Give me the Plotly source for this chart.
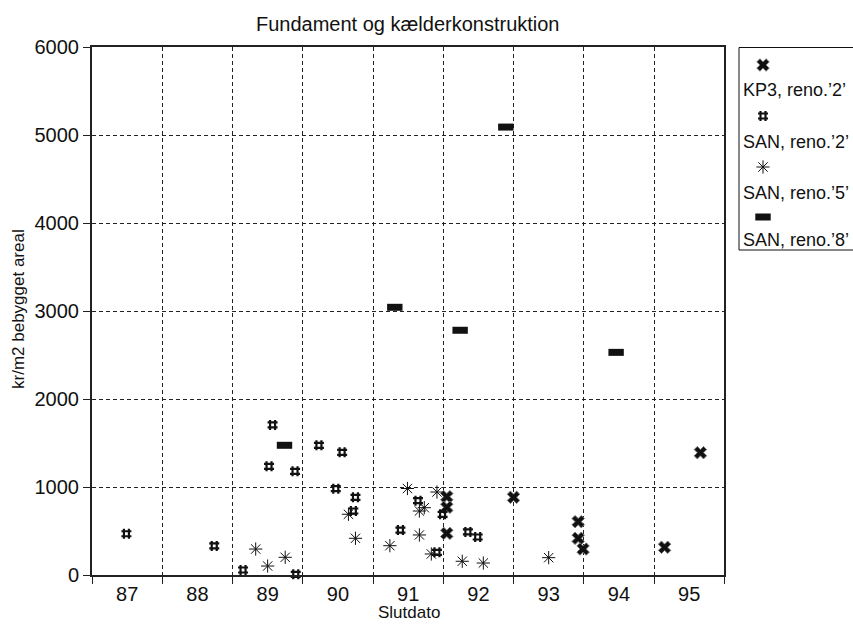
import plotly.graph_objects as go

# Year axis (two-digit years), construction cost per m2
years = ["87", "88", "89", "90", "91", "92", "93", "94", "95"]

kp3_x = [92.05, 92.05, 92.05, 93.00, 93.92, 93.92, 93.99, 95.15, 95.66]
kp3_y = [890, 769, 473, 883, 606, 417, 295, 315, 1390]

san2_x = [87.49, 88.74, 89.15, 89.52, 89.57, 89.89, 89.90, 90.23, 90.47,
          90.56, 90.72, 90.75, 91.39, 91.64, 91.91, 91.99, 92.35, 92.49]
san2_y = [469, 330, 57, 1235, 1705, 1178, 8, 1474, 981,
          1394, 727, 883, 511, 845, 258, 689, 489, 432]

san5_x = [89.33, 89.50, 89.75, 90.65, 90.75, 91.24, 91.49, 91.66, 91.66,
          91.73, 91.83, 91.91, 92.27, 92.57, 93.50]
san5_y = [295, 102, 201, 690, 417, 333, 983, 727, 455,
          765, 239, 943, 156, 136, 197]

san8_x = [89.74, 91.31, 92.24, 92.89, 94.46]
san8_y = [1474, 3042, 2781, 5090, 2530]

series_names = ["KP3, reno.\u20192\u2019", "SAN, reno.\u20192\u2019",
                "SAN, reno.\u20195\u2019", "SAN, reno.\u20198\u2019"]

FONT = "Liberation Sans, Arial, Helvetica, sans-serif"
INK = "#111111"

styles = [
    dict(symbol="x", size=11, color=INK, line=dict(color="#777777", width=1)),
    dict(symbol="hash", size=10, color=INK, line=dict(color=INK, width=2.2)),
    dict(symbol="asterisk", size=11, color=INK, line=dict(color=INK, width=1)),
    dict(symbol="line-ew", size=11, color=INK, line=dict(color=INK, width=7)),
]
data = [(kp3_x, kp3_y), (san2_x, san2_y), (san5_x, san5_y), (san8_x, san8_y)]

fig = go.Figure()
for (xs, ys), st, name in zip(data, styles, series_names):
    fig.add_trace(go.Scatter(x=xs, y=ys, mode="markers", name=name,
                             marker=st, showlegend=False, cliponaxis=False,
                             xaxis="x", yaxis="y"))

# Hand-drawn key to the right of the plot (pixel coordinates on x2/y2)
key_sym_y = [65, 116, 167, 217]
key_txt_y = [90, 142, 193, 240]
for st, sy in zip(styles, key_sym_y):
    fig.add_trace(go.Scatter(x=[763], y=[sy], mode="markers", marker=st,
                             showlegend=False, cliponaxis=False,
                             xaxis="x2", yaxis="y2", hoverinfo="skip"))

annotations = []
for name, ty in zip(series_names, key_txt_y):
    annotations.append(dict(xref="x2", yref="y2", x=741, y=ty, text=name,
                            showarrow=False, xanchor="left", yanchor="middle",
                            font=dict(family=FONT, size=18, color=INK)))

W, H = 853, 625
L, T, B = 92, 47, 50
plot_right = 724.3
paper_w = W - L
paper_h = H - T - B

annotations += [
    dict(xref="paper", yref="paper", x=(408 - L) / paper_w,
         y=(H - B - 24) / paper_h, text="Fundament og kælderkonstruktion",
         showarrow=False, xanchor="center", yanchor="middle",
         font=dict(family=FONT, size=20, color=INK)),
    dict(xref="paper", yref="paper", x=(408.7 - L) / paper_w,
         y=(H - B - 612) / paper_h, text="Slutdato",
         showarrow=False, xanchor="center", yanchor="middle",
         font=dict(family=FONT, size=17, color=INK)),
    dict(xref="paper", yref="paper", x=(18 - L) / paper_w,
         y=(H - B - 309) / paper_h, text="kr/m2 bebygget areal",
         textangle=-90, showarrow=False, xanchor="center", yanchor="middle",
         font=dict(family=FONT, size=17, color=INK)),
]

grid = dict(gridcolor="#222222", gridwidth=1, griddash="4px,3px")

fig.update_layout(
    width=W, height=H,
    margin=dict(l=L, r=0, t=T, b=B, pad=0),
    paper_bgcolor="white", plot_bgcolor="white",
    font=dict(family=FONT, size=20, color=INK),
    xaxis=dict(domain=[0, (plot_right - L) / paper_w], range=[87, 96],
               tickvals=[87.5 + i for i in range(len(years))], ticktext=years,
               ticks="", showgrid=False, zeroline=False,
               showline=True, linecolor="#222222", linewidth=2, mirror=True,
               tickfont=dict(size=20, color=INK),
               minor=dict(tick0=87, dtick=1, ticks="outside", ticklen=7,
                          tickcolor="#222222", tickwidth=1, showgrid=True, **grid),
               anchor="y", fixedrange=True),
    yaxis=dict(domain=[0, 1], range=[0, 6000], dtick=1000,
               ticks="outside", ticklen=7, tickcolor="#222222", tickwidth=1,
               showgrid=True, zeroline=False,
               showline=True, linecolor="#222222", linewidth=2, mirror=True,
               tickfont=dict(size=20, color=INK), anchor="x", fixedrange=True,
               **grid),
    xaxis2=dict(domain=[(plot_right - L) / paper_w, 1], range=[plot_right, W],
                visible=False, anchor="y2", fixedrange=True),
    yaxis2=dict(domain=[0, 1], range=[H - B, T], visible=False,
                anchor="x2", fixedrange=True),
    shapes=[dict(type="rect", xref="x2", yref="y2", x0=739, x1=880,
                 y0=47.5, y1=250, line=dict(color=INK, width=1),
                 fillcolor="rgba(0,0,0,0)")],
    annotations=annotations,
)

fig.write_html("out.html")
